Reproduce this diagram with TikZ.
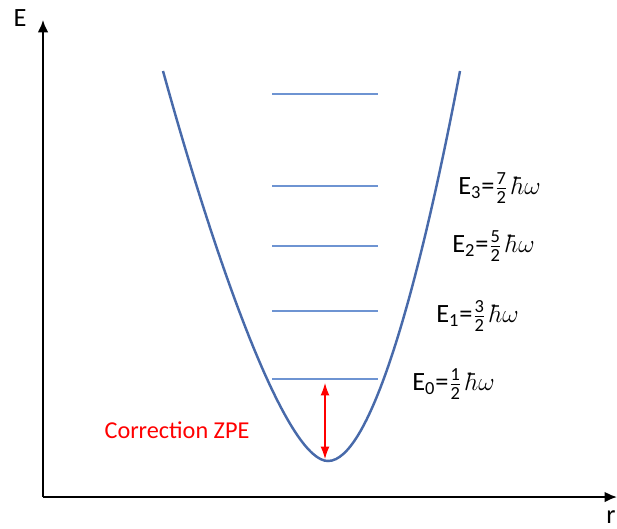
\documentclass[tikz,border=0pt]{standalone}
\usepackage{amsmath}
\usepackage{amssymb}
\usepackage{fontspec}
\setmainfont{Carlito}
\usetikzlibrary{arrows.meta}

\definecolor{puits}{RGB}{72,106,170}
\definecolor{niveau}{RGB}{110,148,210}

\tikzset{
  axe/.style={line width=1.1pt, -{Latex[length=7pt,width=6pt]}},
  niv/.style={niveau, line width=1pt},
  etiq/.style={anchor=west, inner sep=0pt, font=\fontsize{15}{17}\selectfont},
}

\begin{document}
\begin{tikzpicture}[x=0.02cm, y=-0.02cm]
  \useasboundingbox (0,0) rectangle (617,528);

  % Ejes
  \coordinate (O) at (43,497);
  \coordinate (Etop) at (43,20);
  \coordinate (rend) at (617,497);
  \draw[axe] (O) -- (Etop);
  \draw[axe] (O) -- (rend);
  \node (labE) at (20,18) {\fontsize{15}{17}\selectfont E};
  \node (labr) at (611,517) {\fontsize{15}{17}\selectfont r};

  % Puits de potentiel
  \coordinate (fond) at (328,461);
  \draw[puits, line width=1.4pt] (163,71) .. controls (225,295) and (290,461) .. (fond)
        .. controls (370,461) and (418,292) .. (460,71);

  % Niveaux d'energie
  \draw[niv] (272,94) -- (378,94);
  \foreach \y/\n/\num/\xl/\yl in {
    379/0/1/412/384,
    311/1/3/436/316,
    246/2/5/452/246,
    186/3/7/458/188} {
    \draw[niv] (272,\y) coordinate (e\n) -- (378,\y);
    \node[etiq] (lab\n) at (\xl,\yl) {E$_{\text{\n}}$=$\frac{\text{\num}}{\text{2}}\,\hbar\omega$};
  }

  % Correction ZPE
  \coordinate (zpeh) at (325,383);
  \coordinate (zpeb) at (325,459);
  \draw[red, line width=0.6pt, {Latex[length=7pt,width=5pt]}-{Latex[length=7pt,width=5pt]}] (zpeh) -- (zpeb);
  \node[red, font=\fontsize{13.8}{16}\selectfont] (zpe) at (177,430) {Correction ZPE};
\end{tikzpicture}
\end{document}
